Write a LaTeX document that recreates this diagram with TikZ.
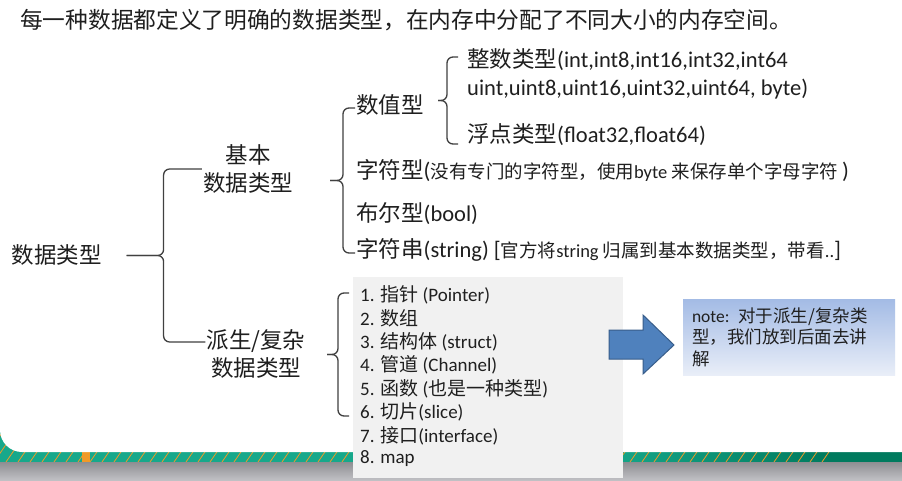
\documentclass[tikz,border=0pt]{standalone}
\usepackage{fontspec}
\setmainfont{Carlito}
\newfontfamily\cjk{Noto Sans CJK SC}
\usepackage{tikz}
\usetikzlibrary{calc}

\definecolor{ink}{HTML}{1F1F1F}
\definecolor{bracegray}{HTML}{404040}
\definecolor{boxgray}{HTML}{F1F1F1}
\definecolor{arrowblue}{HTML}{4F81BD}
\definecolor{arrowedge}{HTML}{385D8A}
\definecolor{notetop}{HTML}{A3BBE5}
\definecolor{notebot}{HTML}{E9EEF8}
\definecolor{bandteal}{HTML}{17A88B}
\definecolor{banddark}{HTML}{007A5E}
\definecolor{bandorange}{HTML}{F09A28}
\definecolor{stripdark}{HTML}{8E8E92}
\definecolor{striplight}{HTML}{C3C3C7}

\newcommand\zh[1]{{\cjk #1}}
\newcommand\fstitle{\fontsize{22.7}{28}\selectfont}
\newcommand\fsmain{\fontsize{22.5}{28}\selectfont}
\newcommand\fssmall{\fontsize{18.5}{22}\selectfont}
\newcommand\fslist{\fontsize{19}{23}\selectfont}
\newcommand\fsnote{\fontsize{17.5}{21.5}\selectfont}

% brace: top end, bottom end, spine offset, tip offset
\newcommand\bracefrom[4]{
	\coordinate (m) at ($(#1)!0.5!(#2)$);
	\draw[brace] (#1) -| ([xshift=-#3]m) -- ([xshift=-#3-#4]m);
	\draw[brace] (#2) -| ([xshift=-#3]m) -- ([xshift=-#3-#4]m);
}

\tikzset{
	every node/.style = {
		text=ink,
		inner sep=1pt
	},
	leaf/.style = {font=\fsmain, anchor=west},
	group/.style = {font=\fsmain, align=center},
	brace/.style = {draw=bracegray, line width=1.3pt, rounded corners=6pt},
	listitem/.style = {font=\fslist, anchor=west},
	listbox/.style = {fill=boxgray, anchor=north west, inner sep=0pt},
	notebox/.style = {
		top color=notetop,
		bottom color=notebot,
		font=\fsnote,
		align=left,
		inner xsep=9pt
	},
	bigarrow/.style = {fill=arrowblue, draw=arrowedge, line width=1pt, line join=miter}
}

\begin{document}
\begin{tikzpicture}[x=1pt, y=-1pt]
	\useasboundingbox (0,0) rectangle (902,481);

	% bottom band
	\fill[bandteal] (0,430) rectangle (600,462);
	\shade[left color=bandteal, right color=banddark] (600,430) rectangle (830,462);
	\fill[banddark] (830,430) rectangle (902,462);
	\begin{scope}
		\clip (0,430) rectangle (830,462);
		\foreach \x in {-30,-18,...,830}
			\draw[bandorange, line width=0.8pt] (\x,462) -- ++(22,-32);
	\end{scope}
	\fill[bandorange] (82,452) rectangle (90,462);
	\fill[white] (902,0) -- (0,0) [rounded corners=22pt] -- (0,452) [sharp corners] -- (902,452) -- cycle;
	\shade[top color=stripdark, bottom color=striplight] (0,462) rectangle (902,481);

	\node[anchor=west, font=\fstitle] (title) at (19,20)
		{\zh{每一种数据都定义了明确的数据类型，在内存中分配了不同大小的内存空间。}};

	\node[font=\fsmain] (root) at (57,255) {\zh{数据类型}};
	\node[group] (basic) at (248,169) {\zh{基本}\\\zh{数据类型}};
	\node[group] (derived) at (256,353.5) {\zh{派生/复杂}\\\zh{数据类型}};

	\node[leaf] (num) at (355,105) {\zh{数值型}};
	\node[leaf] (int) at (466,60) {\zh{整数类型}(int,int8,int16,int32,int64};
	\node[leaf] (uint) at (466,89) {uint,uint8,uint16,uint32,uint64, byte)};
	\node[leaf] (float) at (466,135) {\zh{浮点类型}(float32,float64)};
	\node[leaf] (char) at (355,171)
		{\zh{字符型}({\fssmall\zh{没有专门的字符型，使用}byte \zh{来保存单个字母字符} })};
	\node[leaf] (bool) at (355,214) {\zh{布尔型}(bool)};
	\node[leaf] (str) at (355,250)
		{\zh{字符串}(string) [{\fssmall\zh{官方将}string \zh{归属到基本数据类型，带看}..}]};

	% derived types list
	\node[listbox, minimum width=270pt, minimum height=201pt] (box) at (353,277) {};
	\foreach \i/\t in {1/{1. \zh{指针} (Pointer)}, 2/{2. \zh{数组}}, 3/{3. \zh{结构体} (struct)},
		4/{4. \zh{管道} (Channel)}, 5/{5. \zh{函数} (\zh{也是一种类型})}, 6/{6. \zh{切片}(slice)},
		7/{7. \zh{接口}(interface)}, 8/{8. map}}
		\node[listitem] (item\i) at (359,{295+23.4*(\i-1)}) {\t};

	\draw[bigarrow] (609,330) -- (643,330) -- (643,315) -- (674,345)
		-- (643,374) -- (643,359) -- (609,359) -- cycle;
	\node[notebox, minimum width=212pt, minimum height=76pt, text width=194pt] (note) at (789,337)
		{note: \zh{对于派生/复杂类}\\\zh{型，我们放到后面去讲}\\\zh{解}};

	% braces
	\coordinate (d1) at ([yshift=11.5pt]derived.west);
	\bracefrom{basic.west}{d1}{40pt}{37pt}
	\coordinate (n1) at ([yshift=-3pt]num.west);
	\coordinate (s1) at ([yshift=-3pt]str.west);
	\bracefrom{n1}{s1}{12pt}{13pt}
	\coordinate (i1) at ([xshift=-8pt,yshift=3pt]int.west);
	\coordinate (f1) at ([xshift=-8pt,yshift=-9pt]float.west);
	\bracefrom{i1}{f1}{11pt}{9pt}
	\coordinate (l1) at ([xshift=-10pt,yshift=2pt]item1.west);
	\coordinate (l6) at ([xshift=-10pt,yshift=-4pt]item6.west);
	\bracefrom{l1}{l6}{11pt}{11pt}
\end{tikzpicture}
\end{document}
